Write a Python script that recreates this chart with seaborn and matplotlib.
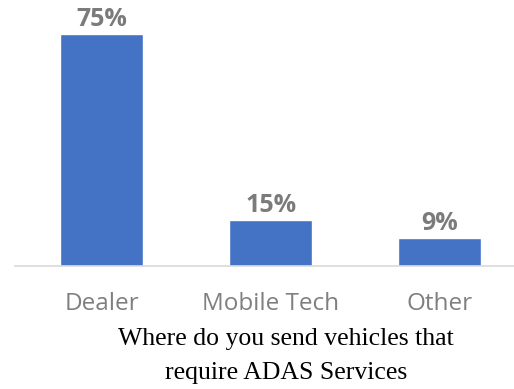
import matplotlib
matplotlib.use("Agg")
import matplotlib.pyplot as plt
import seaborn as sns
import pandas as pd

# Survey responses
categories = ["Dealer", "Mobile Tech", "Other"]
shares = [75, 15, 9]
value_labels = ["75%", "15%", "9%"]
title_lines = ["Where do you send vehicles that", "require ADAS Services"]

df = pd.DataFrame({"category": categories, "share": shares})

sns.set_theme(style="white")
plt.rcParams["font.family"] = ["Open Sans", "DejaVu Sans"]

fig = plt.figure(figsize=(5.14, 3.89), dpi=100)
ax = fig.add_axes([0.03, 0.316, 0.97, 0.684])

sns.barplot(data=df, x="category", y="share", color="#4472C4",
            width=0.49, saturation=1, ax=ax)

ax.set_xlim(-0.51, 2.44)
ax.set_ylim(0, 86)

for i, (v, lab) in enumerate(zip(shares, value_labels)):
    ax.text(i, v + 0.6, lab, ha="center", va="bottom", fontsize=18,
            fontweight="bold", color="#7b7b7b")

for s in ["top", "right", "left"]:
    ax.spines[s].set_visible(False)
ax.spines["bottom"].set_color("#d9d9d9")
ax.spines["bottom"].set_linewidth(1.2)
ax.set_yticks([])
ax.set_xlabel("")
ax.set_ylabel("")
ax.tick_params(axis="x", length=0, pad=19, labelsize=17.5, labelcolor="#7f7f7f")

fig.text(0.557, 0.128, title_lines[0], ha="center", va="center",
         fontsize=18.5, family="Liberation Serif", color="black")
fig.text(0.557, 0.041, title_lines[1], ha="center", va="center",
         fontsize=18.5, family="Liberation Serif", color="black")

fig.savefig("out.png", dpi=100)
